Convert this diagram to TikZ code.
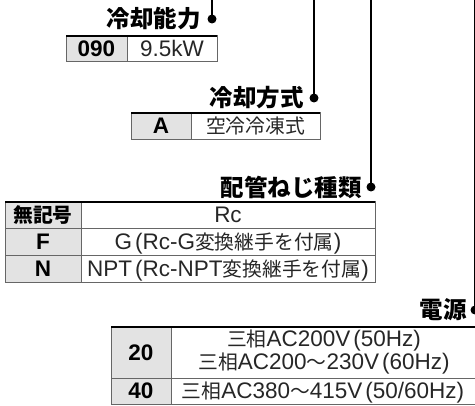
\documentclass[tikz,border=0pt]{standalone}
\usepackage{fontspec}
\setmainfont{Liberation Sans}
\newfontfamily\jp{Noto Sans CJK JP}[Scale=0.88]
\newfontfamily\jphead{Noto Sans CJK JP}
\newcommand\jt[1]{{\jp #1}}
\begin{document}
\begin{tikzpicture}[x=1pt,y=-1pt,
  head/.style={anchor=east,inner sep=0pt,font=\fontsize{23.5}{26}\selectfont\jphead\bfseries},
  knob/.style={circle,fill=black,inner sep=0pt,minimum size=9pt},
  lead/.style={line width=2pt},
  codecell/.style={fill=black!11,draw=black!60,line width=1pt},
  valcell/.style={draw=black!60,line width=1pt},
  topline/.style={line width=2pt},
  codetext/.style={anchor=base,inner sep=0pt,font=\fontsize{22.5}{24}\selectfont\bfseries},
  valtext/.style={anchor=base,inner sep=0pt,text=black!85,font=\fontsize{22.5}{24}\selectfont}]
\useasboundingbox (0,0) rectangle (475,406);
\coordinate (top1) at (212,0);
\coordinate (top2) at (314,0);
\coordinate (top3) at (371,0);
\coordinate (top4) at (475,0);
\node[knob] (k1) at (212,19) {};
\node[knob] (k2) at (314,98) {};
\node[knob] (k3) at (371,187) {};
\node[knob] (k4) at (475,310) {};
\draw[lead] (top1) -- (k1.center);
\draw[lead] (top2) -- (k2.center);
\draw[lead] (top3) -- (k3.center);
\draw[lead] (top4) -- (k4.center);
\node[head] (capacity) at (201,19) {冷却能力};
\node[head] (cooling) at (304,98) {冷却方式};
\node[head] (thread) at (362,187) {配管ねじ種類};
\node[head] (power) at (467,310) {電源};
\draw[codecell] (66,36) rectangle (127,62);
\draw[valcell] (127,36) rectangle (217,62);
\draw[topline] (66,36) -- (217,36);
\node[codetext] (c090) at (96.5,57) {090};
\node[valtext] (v090) at (172,57) {9.5kW};
\draw[codecell] (131,113) rectangle (191,140);
\draw[valcell] (191,113) rectangle (320,140);
\draw[topline] (131,113) -- (320,113);
\node[codetext] (cA) at (161,134) {A};
\node[valtext] (vA) at (255.5,134) {\jt{空冷冷凍式}};
\draw[codecell] (5,202) rectangle (81,283);
\draw[valcell] (81,202) rectangle (375,283);
\draw[valcell] (5,229) -- (375,229);
\draw[valcell] (5,256) -- (375,256);
\draw[topline] (5,202) -- (375,202);
\node[codetext] (cnone) at (43,223) {\jt{無記号}};
\node[valtext] (vnone) at (228,223) {Rc};
\node[codetext] (cF) at (43,250) {F};
\node[valtext] (vF) at (228,250) {G\hspace{3pt}(Rc-G\jt{変換継手を付属})};
\node[codetext] (cN) at (43,277) {N};
\node[valtext] (vN) at (228,277) {NPT\hspace{3pt}(Rc-NPT\jt{変換継手を付属})};
\draw[codecell] (111,327) rectangle (171,405);
\draw[valcell] (171,327) rectangle (478,405);
\draw[valcell] (111,379) -- (478,379);
\draw[topline] (111,327) -- (478,327);
\node[codetext] (c20) at (141,361) {20};
\node[valtext] (v20a) at (324,347) {\jt{三相}AC200V\hspace{3pt}(50Hz)};
\node[valtext] (v20b) at (324,370) {\jt{三相}AC200\jt{～}230V\hspace{3pt}(60Hz)};
\node[codetext] (c40) at (141,399) {40};
\node[valtext] (v40) at (323,399) {\jt{三相}AC380\jt{～}415V\hspace{3pt}(50/60Hz)};
\end{tikzpicture}
\end{document}
